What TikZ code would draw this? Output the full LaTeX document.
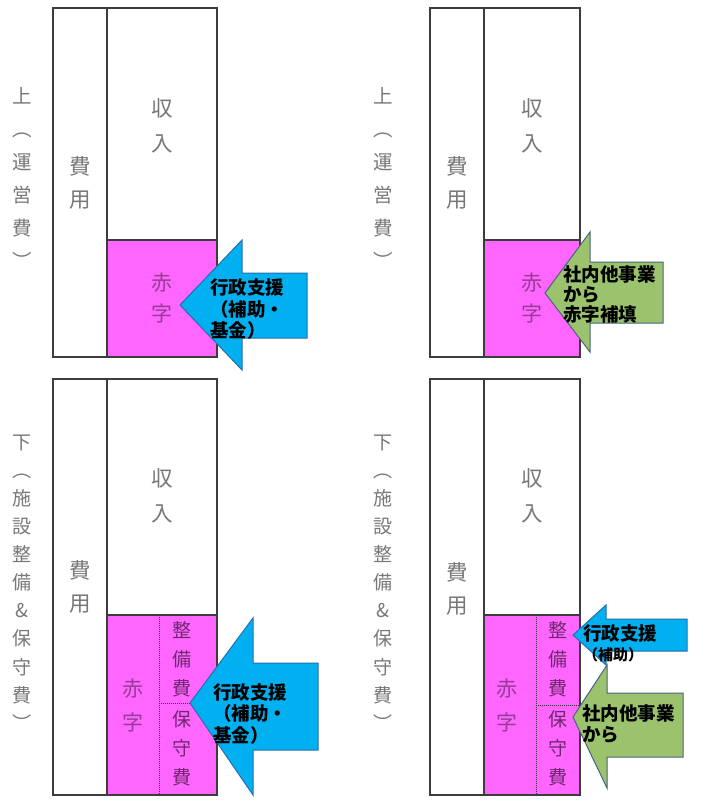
\documentclass[tikz,border=0pt]{standalone}
\usepackage{fontspec}
\newfontfamily\jp{Noto Sans CJK JP}
\definecolor{boxpink}{RGB}{255,102,255}
\definecolor{arrblue}{RGB}{0,176,240}
\definecolor{arrblueedge}{RGB}{40,110,170}
\definecolor{arrgreen}{RGB}{155,195,110}
\definecolor{arrgreenedge}{RGB}{70,100,130}
\definecolor{labgray}{RGB}{120,120,120}
\definecolor{redtxt}{RGB}{150,60,150}
\definecolor{subtxt}{RGB}{110,40,110}
\definecolor{edge}{RGB}{60,60,60}
\begin{document}
\begin{tikzpicture}[x=1pt,y=-1pt,
  panel/.style={draw=edge,line width=1.2pt,fill=white},
  deficit/.style={draw=edge,line width=1.2pt,fill=boxpink},
  sepline/.style={draw=black!80,densely dotted,line width=1pt},
  bluearr/.style={draw=arrblueedge,line width=1pt,fill=arrblue},
  greenarr/.style={draw=arrgreenedge,line width=1pt,fill=arrgreen},
  side/.style={inner sep=0pt,align=center,text=labgray,font=\jp\fontsize{19.5}{33}\selectfont},
  sidelow/.style={side,font=\jp\fontsize{19}{28.1}\selectfont},
  inbox/.style={inner sep=0pt,align=center,text=labgray,font=\jp\fontsize{21.5}{33}\selectfont},
  redlab/.style={inner sep=0pt,align=center,text=redtxt,font=\jp\fontsize{21}{31}\selectfont},
  sublab/.style={inner sep=0pt,align=center,text=subtxt,font=\jp\fontsize{19}{29}\selectfont},
  arrtext/.style={inner sep=0pt,align=left,anchor=west,text=black,font=\jp\bfseries\fontsize{18.5}{21.5}\selectfont},
]
\useasboundingbox (0,0) rectangle (717,811);
\fill[white] (0,0) rectangle (717,811);

% ---------- top-left panel ----------
\draw[panel] (53,8) rectangle (107,357);
\draw[panel] (107,8) rectangle (217,357);
\draw[deficit] (107,240) rectangle (217,357);
\node[side] (tlside) at (22,177.5) {上\\︵\\運\\営\\費\\︶};
\node[inbox] (tlcost) at (80,182.5) {費\\用};
\node[inbox,font=\jp\fontsize{21.5}{35}\selectfont] (tlinc) at (162,125.5) {収\\入};
\node[redlab] (tlred) at (162,298) {赤\\字};
\draw[bluearr] (180,305) -- (242,240) -- (242,273) -- (307,273) -- (307,338) -- (242,338) -- (242,370) -- cycle;
\node[arrtext] (tlarr) at (210,309.5) {行政支援\\（補助・\\基金）};

% ---------- top-right panel ----------
\draw[panel] (430,8) rectangle (484,357);
\draw[panel] (484,8) rectangle (580,357);
\draw[deficit] (484,240) rectangle (580,357);
\node[side] (trside) at (383,177.5) {上\\︵\\運\\営\\費\\︶};
\node[inbox] (trcost) at (457,182.5) {費\\用};
\node[inbox,font=\jp\fontsize{21.5}{35}\selectfont] (trinc) at (532,125.5) {収\\入};
\node[redlab] (trred) at (532,298) {赤\\字};
\draw[greenarr] (545,293) -- (590,232) -- (590,262) -- (663,262) -- (663,323) -- (590,323) -- (590,352) -- cycle;
\node[arrtext,font=\jp\bfseries\fontsize{18.5}{20}\selectfont] (trarr) at (563,295) {社内他事業\\から\\赤字補填};

% ---------- bottom-left panel ----------
\draw[panel] (53,379) rectangle (107,795);
\draw[panel] (107,379) rectangle (217,795);
\draw[deficit] (107,615) rectangle (217,795);
\draw[sepline] (159,615) -- (159,795);
\draw[sepline] (159,703) -- (217,703);
\node[sidelow] (blside) at (22,582.5) {下\\︵\\施\\設\\整\\備\\\&\\保\\守\\費\\︶};
\node[inbox] (blcost) at (80,586.5) {費\\用};
\node[inbox,font=\jp\fontsize{21.5}{35}\selectfont] (blinc) at (162,495.5) {収\\入};
\node[redlab,font=\jp\fontsize{21}{34}\selectfont] (blred) at (133,705) {赤\\字};
\node[sublab] (blsub1) at (182,659) {整\\備\\費};
\node[sublab] (blsub2) at (182,748) {保\\守\\費};
\draw[bluearr] (190,703) -- (253,618) -- (253,663) -- (318,663) -- (318,750) -- (253,750) -- (253,795) -- cycle;
\node[arrtext] (blarr) at (213,714) {行政支援\\（補助・\\基金）};

% ---------- bottom-right panel ----------
\draw[panel] (430,379) rectangle (484,795);
\draw[panel] (484,379) rectangle (580,795);
\draw[deficit] (484,615) rectangle (580,795);
\draw[sepline] (536,615) -- (536,795);
\draw[sepline] (536,705) -- (580,705);
\node[sidelow] (brside) at (383,582.5) {下\\︵\\施\\設\\整\\備\\\&\\保\\守\\費\\︶};
\node[inbox] (brcost) at (457,588.5) {費\\用};
\node[inbox,font=\jp\fontsize{21.5}{35}\selectfont] (brinc) at (532,495.5) {収\\入};
\node[redlab,font=\jp\fontsize{21}{34}\selectfont] (brred) at (507,705) {赤\\字};
\node[sublab] (brsub1) at (558,659) {整\\備\\費};
\node[sublab] (brsub2) at (558,748) {保\\守\\費};
\draw[bluearr] (573,635) -- (606,605) -- (606,619) -- (687,619) -- (687,651) -- (606,651) -- (606,665) -- cycle;
\node[arrtext] (brarr1) at (583,633) {行政支援};
\node[arrtext,font=\jp\bfseries\fontsize{15}{16}\selectfont] (brarr2) at (583,655) {（補助）};
\draw[greenarr] (573,717) -- (607,665) -- (607,693) -- (683,693) -- (683,757) -- (607,757) -- (607,788) -- cycle;
\node[arrtext] (brarr3) at (582,724) {社内他事業\\から};
\end{tikzpicture}
\end{document}
